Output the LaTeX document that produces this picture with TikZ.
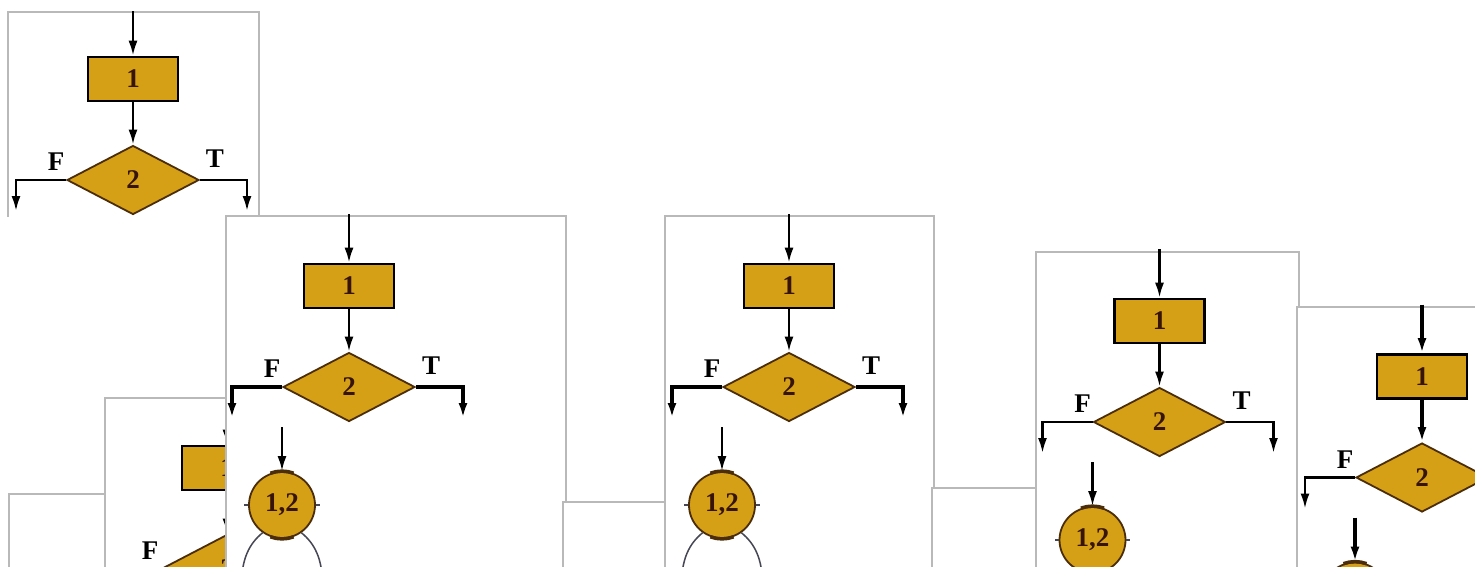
\documentclass[tikz,border=0pt]{standalone}
\usepackage{fontspec}
\setmainfont{Liberation Serif}
\usetikzlibrary{shapes.geometric,arrows.meta}
\definecolor{gold}{RGB}{214,160,22}
\definecolor{edgebrown}{RGB}{75,45,10}
\definecolor{panelgray}{RGB}{185,185,185}
\definecolor{inkbrown}{RGB}{55,20,10}
\definecolor{curvegray}{RGB}{70,70,85}
\newcommand\labelfont{\bfseries\fontsize{27}{30}\selectfont}
\tikzset{
  panel/.style={fill=white, draw=panelgray, line width=1.3pt},
  panelfill/.style={fill=white},
  paneledge/.style={draw=panelgray, line width=1.3pt},
  procbox/.style={rectangle, fill=gold, draw=black, line width=2.6pt,
    minimum width=90pt, minimum height=44pt, inner sep=0pt,
    font=\labelfont, text=inkbrown},
  decision/.style={diamond, fill=gold, draw=edgebrown, line width=1.8pt,
    minimum width=132pt, minimum height=69pt, aspect=1.9, inner sep=0pt,
    font=\labelfont, text=inkbrown},
  joint/.style={circle, fill=gold, draw=edgebrown, line width=1.8pt,
    minimum size=66pt, inner sep=0pt, font=\labelfont, text=inkbrown},
  tf/.style={font=\labelfont, text=black, inner sep=0pt},
  flowarrow/.style={line width=2.4pt, -{Latex[length=15pt,width=9pt]}},
  brancharrow/.style={line width=2.8pt, -{Latex[length=15pt,width=9pt]}},
  jointmark/.style={line width=3.5pt, draw=edgebrown},
  jointtick/.style={line width=1.8pt, draw=curvegray},
  joincurve/.style={line width=1.5pt, draw=curvegray},
}
% #1 prefix, #2 x, #3 y, #4 main arrow width, #5 branch width
\newcommand\flowchart[5]{%
\begin{scope}[shift={(#2,#3)},
   flowarrow/.append style={line width=#4},
   brancharrow/.append style={line width=#5}]
  \coordinate (#1in) at (0,-72);
  \node[procbox] (#1box) at (0,0) {1};
  \node[decision] (#1dec) at (0,101) {2};
  \coordinate (#1fb) at (-117,101);
  \coordinate (#1fe) at (-117,132);
  \coordinate (#1tb) at (114,101);
  \coordinate (#1te) at (114,132);
  \node[tf] (#1F) at (-77,83) {F};
  \node[tf] (#1T) at (82,80) {T};
  \coordinate (#1cin) at (-67,141);
  \node[joint] (#1j) at (-67,219) {1,2};
  \coordinate (#1ja) at (-108,300);
  \coordinate (#1jb) at (-26,300);
  \draw[flowarrow] (#1in) -- (#1box);
  \draw[flowarrow] (#1box) -- (#1dec);
  \draw[brancharrow] (#1dec.west) -- (#1fb) -- (#1fe);
  \draw[brancharrow] (#1dec.east) -- (#1tb) -- (#1te);
  \draw[flowarrow] (#1cin) -- (#1j);
  \draw[jointmark] (#1j.70) -- (#1j.80) -- (#1j.90) -- (#1j.100) -- (#1j.110);
  \draw[jointmark] (#1j.250) -- (#1j.260) -- (#1j.270) -- (#1j.280) -- (#1j.290);
  \draw[jointtick] (#1j.west) -- ++(-4,0);
  \draw[jointtick] (#1j.east) -- ++(4,0);
  \draw[joincurve] (#1j.235) .. controls (-100,258) and (-107,272) .. (#1ja);
  \draw[joincurve] (#1j.305) .. controls (-34,258) and (-27,272) .. (#1jb);
\end{scope}}
\begin{document}
\begin{tikzpicture}[x=1pt,y=-1pt]
\useasboundingbox (0,0) rectangle (1475,566);
\clip (0,0) rectangle (1475,566);
\fill[white] (0,0) rectangle (1475,566);
% panel A (top left, cut at its bottom)
\begin{scope}
  \clip (7,11) rectangle (261,216);
  \fill[panelfill] (8,12) rectangle (259,230);
  \draw[paneledge] (8,230) -- (8,12) -- (259,12) -- (259,230);
  \flowchart{a}{133}{79}{2.4pt}{2.4pt}
\end{scope}
% panel D
\draw[panel] (9,494) rectangle (200,620);
% panel C
\draw[panel] (105,398) rectangle (400,620);
\flowchart{c}{227}{468}{2.4pt}{2.8pt}
% panel B
\draw[panel] (226,216) rectangle (566,620);
\flowchart{b}{349}{286}{2.4pt}{3.4pt}
% panel F
\draw[panel] (563,502) rectangle (700,620);
% panel E
\draw[panel] (665,216) rectangle (934,620);
\flowchart{e}{789}{286}{2.4pt}{3.4pt}
% panel G
\draw[panel] (932,488) rectangle (1100,620);
% panel H
\draw[panel] (1036,252) rectangle (1299,620);
\flowchart{h}{1159.5}{321}{2.4pt}{2.4pt}
% panel I
\draw[panel] (1297,307) rectangle (1600,620);
\flowchart{i}{1422}{376.5}{3.6pt}{2.2pt}
\end{tikzpicture}
\end{document}
